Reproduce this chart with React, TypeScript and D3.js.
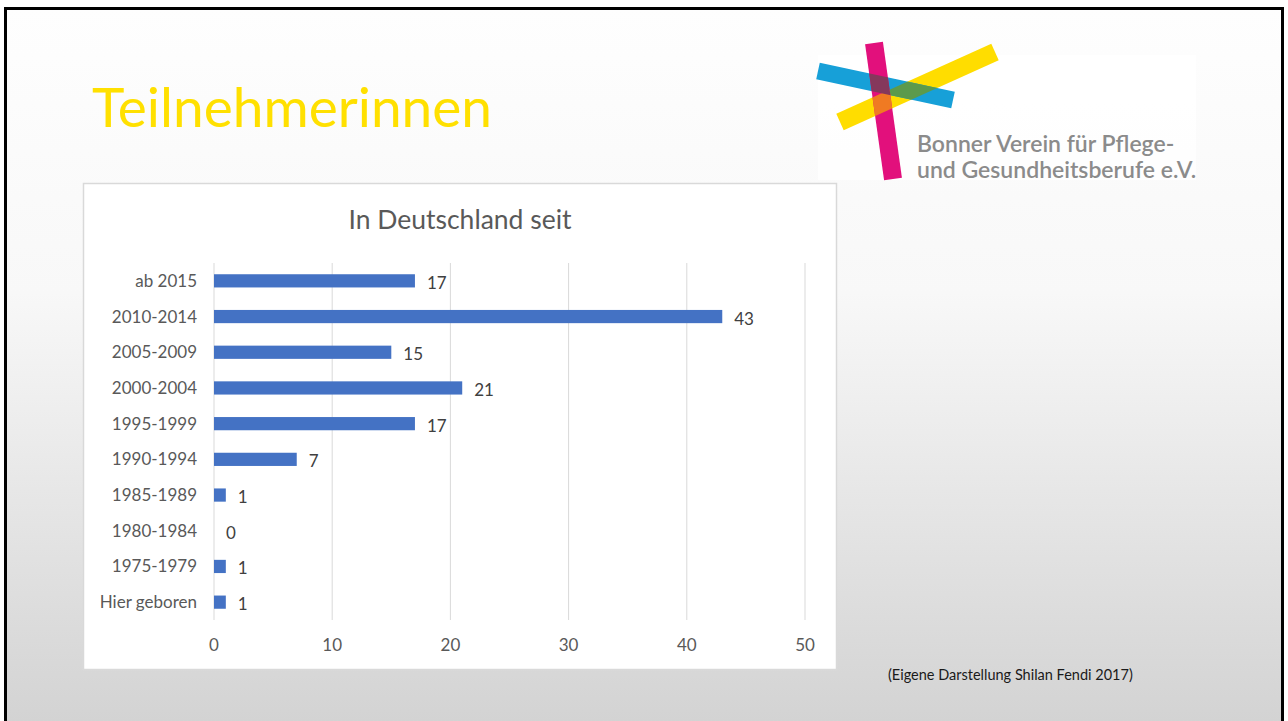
import React from "react";
import * as d3 from "d3";

const categories = [
  "ab 2015",
  "2010-2014",
  "2005-2009",
  "2000-2004",
  "1995-1999",
  "1990-1994",
  "1985-1989",
  "1980-1984",
  "1975-1979",
  "Hier geboren",
];
const values = [17, 43, 15, 21, 17, 7, 1, 0, 1, 1];
const xTicks = [0, 10, 20, 30, 40, 50];

const W = 1288;
const H = 721;
const FONT = "Lato, 'Open Sans', sans-serif";

function barPoly(x1: number, y1: number, x2: number, y2: number, w: number) {
  const dx = x2 - x1;
  const dy = y2 - y1;
  const len = Math.hypot(dx, dy);
  const nx = (-dy / len) * (w / 2);
  const ny = (dx / len) * (w / 2);
  return [
    [x1 + nx, y1 + ny],
    [x2 + nx, y2 + ny],
    [x2 - nx, y2 - ny],
    [x1 - nx, y1 - ny],
  ]
    .map((p) => p.join(","))
    .join(" ");
}

const yellowBar = barPoly(840, 122, 995, 52, 18);
const blueBar = barPoly(818, 71, 953, 100, 17);
const magentaBar = barPoly(874, 43, 893, 179, 18);

export default function App() {
  const x = d3.scaleLinear().domain([0, 50]).range([214, 805]);
  const y = d3.scaleBand<string>().domain(categories).range([263, 620]).paddingInner(0.63).paddingOuter(0.315);

  return (
    <svg width={W} height={H} style={{ position: "absolute", left: 0, top: 0 }}>
      <defs>
        <linearGradient id="bg" x1="0" y1="0" x2="0" y2="1">
          <stop offset="0" stopColor="#fefefe" />
          <stop offset="0.4" stopColor="#f8f8f8" />
          <stop offset="1" stopColor="#d3d3d3" />
        </linearGradient>
        <clipPath id="clipY">
          <polygon points={yellowBar} />
        </clipPath>
        <clipPath id="clipB">
          <polygon points={blueBar} />
        </clipPath>
      </defs>
      <rect x={0} y={0} width={W} height={H} fill="#ffffff" />
      <rect x={5} y={8} width={1278} height={H - 8} fill="url(#bg)" />
      {/* frame */}
      <line x1={5} y1={8.5} x2={1283} y2={8.5} stroke="#000" strokeWidth={3} />
      <line x1={5.5} y1={7} x2={5.5} y2={H} stroke="#000" strokeWidth={3} />
      <line x1={1282.5} y1={7} x2={1282.5} y2={H} stroke="#000" strokeWidth={3} />

      {/* title */}
      <text x={92} y={127} fontFamily={FONT} fontSize={55} fill="#ffe000">
        Teilnehmerinnen
      </text>

      {/* logo */}
      <g>
        <rect x={818} y={55} width={378} height={125} fill="#ffffff" opacity={0.8} />
        <polygon points={yellowBar} fill="#ffdd00" />
        <polygon points={blueBar} fill="#17a0d8" />
        <polygon points={yellowBar} fill="#5c9a4c" clipPath="url(#clipB)" />
        <polygon points={magentaBar} fill="#e2107c" />
        <polygon points={magentaBar} fill="#f07a22" clipPath="url(#clipY)" />
        <polygon points={magentaBar} fill="#85385c" clipPath="url(#clipB)" />
        <text x={917} y={152} fontFamily={FONT} fontSize={23} fontWeight={600} fill="#8b8b8b">
          Bonner Verein für Pflege-
        </text>
        <text x={917} y={178} fontFamily={FONT} fontSize={23} fontWeight={600} fill="#8b8b8b">
          und Gesundheitsberufe e.V.
        </text>
      </g>

      {/* chart box */}
      <rect x={83.5} y={183.5} width={753} height={486} fill="#ffffff" stroke="#d9d9d9" strokeWidth={1.5} />
      <text x={460} y={229} textAnchor="middle" fontFamily={FONT} fontSize={26.5} fill="#595959">
        In Deutschland seit
      </text>

      {/* gridlines */}
      {xTicks.map((t) => (
        <line key={t} x1={x(t)} x2={x(t)} y1={263} y2={620} stroke="#d9d9d9" strokeWidth={1} />
      ))}
      {xTicks.map((t) => (
        <text key={"t" + t} x={x(t)} y={651} textAnchor="middle" fontFamily={FONT} fontSize={17} fill="#595959">
          {t}
        </text>
      ))}

      {/* bars */}
      {categories.map((c, i) => (
        <g key={c}>
          <rect x={x(0)} y={y(c)!} width={x(values[i]) - x(0)} height={y.bandwidth()} fill="#4472c4" />
          <text
            x={197}
            y={y(c)! + y.bandwidth() / 2}
            dy="0.35em"
            textAnchor="end"
            fontFamily={FONT}
            fontSize={17}
            fill="#595959"
          >
            {c}
          </text>
          <text
            x={x(values[i]) + 12}
            y={y(c)! + y.bandwidth() / 2 + 2}
            dy="0.35em"
            fontFamily={FONT}
            fontSize={17}
            fill="#404040"
          >
            {values[i]}
          </text>
        </g>
      ))}

      <text x={888} y={680} fontFamily={FONT} fontSize={14.5} fill="#1a1a1a">
        (Eigene Darstellung Shilan Fendi 2017)
      </text>
    </svg>
  );
}
